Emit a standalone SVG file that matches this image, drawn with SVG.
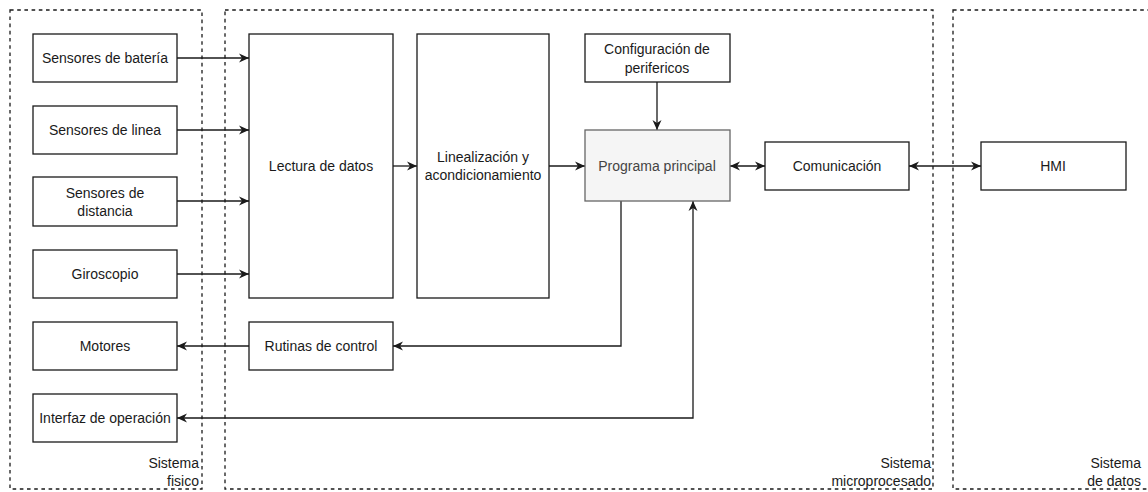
<svg xmlns="http://www.w3.org/2000/svg" width="1148" height="492" viewBox="0 0 1148 492">
  <style>
    text { font-family: "Liberation Sans", Arial, sans-serif; font-size: 14px; fill: #1a1a1a; }
    .c { text-anchor: middle; dominant-baseline: central; }
    .r { text-anchor: end; }
    .box { fill: #ffffff; stroke: #1a1a1a; stroke-width: 1.3; }
    .main { fill: #f5f5f5; stroke: #666666; stroke-width: 1.3; }
    .zone { fill: none; stroke: #1a1a1a; stroke-width: 1.3; stroke-dasharray: 3.6 3.6; }
    .wire { fill: none; stroke: #1a1a1a; stroke-width: 1.3; }
  </style>
  <defs>
    <marker id="arr" viewBox="0 0 10 10" refX="10" refY="5" markerWidth="10" markerHeight="10" markerUnits="userSpaceOnUse" orient="auto-start-reverse">
      <path d="M0,0.5 L10,5 L0,9.5 L3,5 Z" fill="#1a1a1a"/>
    </marker>
  </defs>
  <rect width="1148" height="492" fill="#ffffff"/>

  <!-- system zones -->
  <g id="zona-fisico">
    <rect class="zone" x="10" y="10" width="192" height="479"/>
    <text class="r" x="199" y="468">Sistema</text>
    <text class="r" x="199" y="486">fisico</text>
  </g>
  <g id="zona-micro">
    <rect class="zone" x="225" y="10" width="708" height="479"/>
    <text class="r" x="931" y="468">Sistema</text>
    <text class="r" x="931" y="486">microprocesado</text>
  </g>
  <g id="zona-datos">
    <rect class="zone" x="953" y="10" width="210" height="479"/>
    <text class="r" x="1141" y="468">Sistema</text>
    <text class="r" x="1141" y="486">de datos</text>
  </g>

  <!-- connectors -->
  <g id="connectors">
    <line class="wire" x1="177" y1="58" x2="249" y2="58" marker-end="url(#arr)"/>
    <line class="wire" x1="177" y1="130" x2="249" y2="130" marker-end="url(#arr)"/>
    <line class="wire" x1="177" y1="201" x2="249" y2="201" marker-end="url(#arr)"/>
    <line class="wire" x1="177" y1="274" x2="249" y2="274" marker-end="url(#arr)"/>
    <line class="wire" x1="393" y1="166" x2="417" y2="166" marker-end="url(#arr)"/>
    <line class="wire" x1="549" y1="166" x2="585" y2="166" marker-end="url(#arr)"/>
    <line class="wire" x1="657" y1="82" x2="657" y2="130" marker-end="url(#arr)"/>
    <line class="wire" x1="730" y1="166" x2="765" y2="166" marker-start="url(#arr)" marker-end="url(#arr)"/>
    <line class="wire" x1="909" y1="166" x2="981" y2="166" marker-start="url(#arr)" marker-end="url(#arr)"/>
    <polyline class="wire" points="621,201 621,346 393,346" marker-end="url(#arr)"/>
    <line class="wire" x1="249" y1="346" x2="177" y2="346" marker-end="url(#arr)"/>
    <polyline class="wire" points="177,418 693,418 693,201" marker-start="url(#arr)" marker-end="url(#arr)"/>
  </g>

  <!-- physical system -->
  <g id="sensores-bateria">
    <rect class="box" x="33" y="34" width="144" height="48"/>
    <text class="c" x="105" y="58">Sensores de batería</text>
  </g>
  <g id="sensores-linea">
    <rect class="box" x="33" y="106" width="144" height="48"/>
    <text class="c" x="105" y="130">Sensores de linea</text>
  </g>
  <g id="sensores-distancia">
    <rect class="box" x="33" y="177" width="144" height="49"/>
    <text class="c" x="105" y="193">Sensores de</text>
    <text class="c" x="105" y="211">distancia</text>
  </g>
  <g id="giroscopio">
    <rect class="box" x="33" y="250" width="144" height="48"/>
    <text class="c" x="105" y="274">Giroscopio</text>
  </g>
  <g id="motores">
    <rect class="box" x="33" y="322" width="144" height="48"/>
    <text class="c" x="105" y="346">Motores</text>
  </g>
  <g id="interfaz">
    <rect class="box" x="33" y="394" width="144" height="48"/>
    <text class="c" x="105" y="418">Interfaz de operación</text>
  </g>

  <!-- microprocessor system -->
  <g id="lectura">
    <rect class="box" x="249" y="34" width="144" height="264"/>
    <text class="c" x="321" y="166">Lectura de datos</text>
  </g>
  <g id="linealizacion">
    <rect class="box" x="417" y="34" width="132" height="264"/>
    <text class="c" x="483" y="157">Linealización y</text>
    <text class="c" x="483" y="175">acondicionamiento</text>
  </g>
  <g id="configuracion">
    <rect class="box" x="585" y="34" width="145" height="48"/>
    <text class="c" x="657" y="49">Configuración de</text>
    <text class="c" x="657" y="68">perifericos</text>
  </g>
  <g id="programa">
    <rect class="main" x="585" y="130" width="145" height="71"/>
    <text class="c" x="657" y="166" style="fill:#444444">Programa principal</text>
  </g>
  <g id="rutinas">
    <rect class="box" x="249" y="322" width="144" height="48"/>
    <text class="c" x="321" y="346">Rutinas de control</text>
  </g>
  <g id="comunicacion">
    <rect class="box" x="765" y="142" width="144" height="48"/>
    <text class="c" x="837" y="166">Comunicación</text>
  </g>

  <!-- data system -->
  <g id="hmi">
    <rect class="box" x="981" y="142" width="145" height="48"/>
    <text class="c" x="1053" y="166">HMI</text>
  </g>
</svg>
